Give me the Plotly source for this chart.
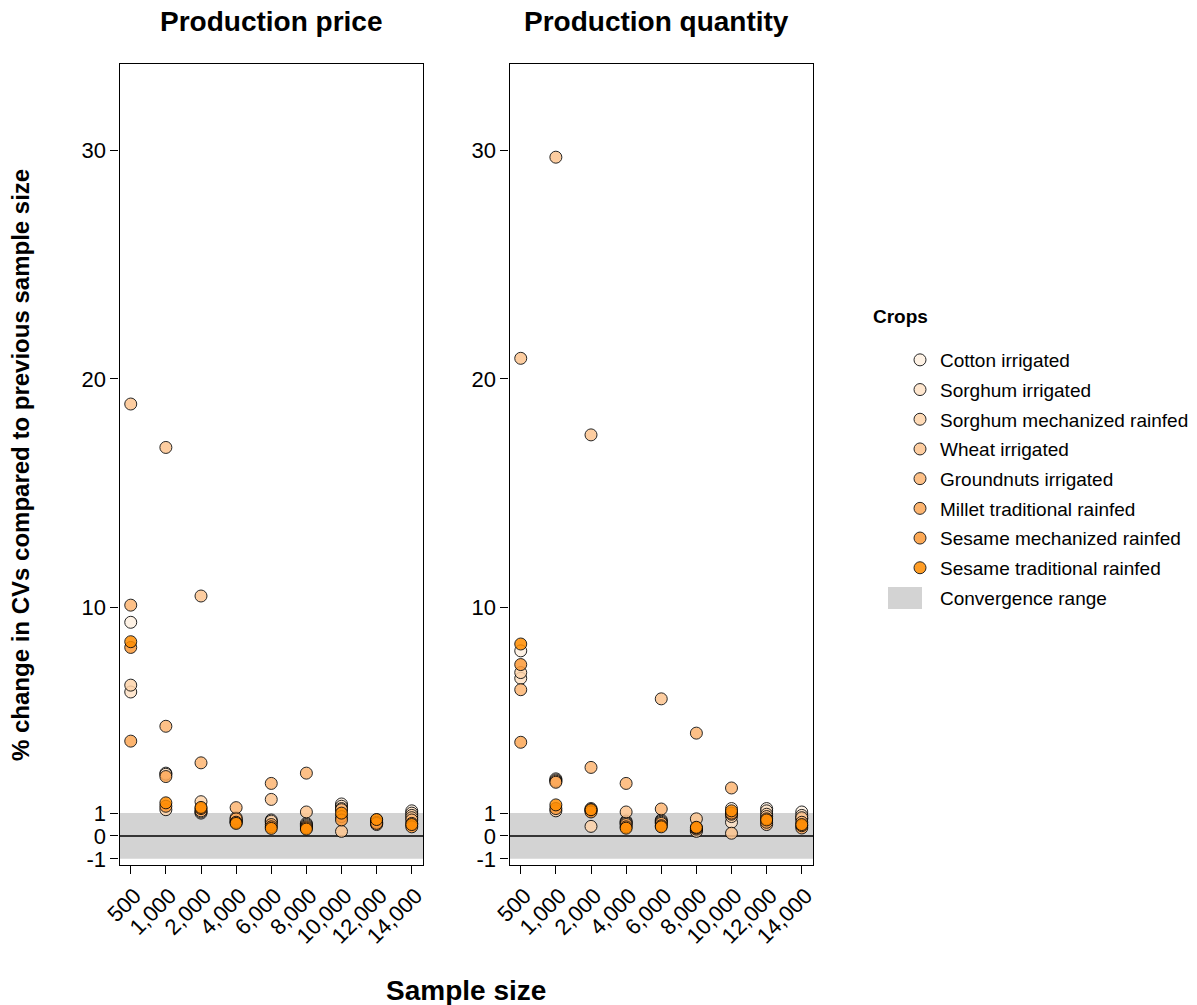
import plotly.graph_objects as go

# Sample sizes (x categories)
SAMPLE_SIZES = ["500", "1,000", "2,000", "4,000", "6,000", "8,000", "10,000", "12,000", "14,000"]

CROPS = [
    "Cotton irrigated",
    "Sorghum irrigated",
    "Sorghum mechanized rainfed",
    "Wheat irrigated",
    "Groundnuts irrigated",
    "Millet traditional rainfed",
    "Sesame mechanized rainfed",
    "Sesame traditional rainfed",
]
CROP_COLORS = ["#FEF0E1", "#FEE2C6", "#FED4AA", "#FDC590", "#FDB673", "#FCA756", "#FC9937", "#FF8C00"]

# % change in CVs, production price
PRICE_COTTON = [9.35, 2.75, 1.0, 0.6, 0.7, 0.55, 1.4, 0.6, 1.1]
PRICE_SORGHUM_IRR = [6.3, 2.7, 1.05, 0.65, 0.6, 0.5, 1.3, 0.55, 1.0]
PRICE_SORGHUM_MECH = [6.6, 1.15, 1.5, 0.7, 0.65, 0.45, 1.2, 0.65, 0.9]
PRICE_WHEAT = [18.9, 17.0, 10.5, 0.8, 1.6, 1.05, 0.2, 0.7, 0.8]
PRICE_GROUNDNUTS = [10.1, 4.8, 3.2, 1.24, 2.3, 2.75, 1.15, 0.5, 0.7]
PRICE_MILLET = [4.15, 2.6, 1.1, 0.75, 0.5, 0.4, 0.85, 0.6, 0.55]
PRICE_SESAME_MECH = [8.25, 1.3, 1.2, 0.6, 0.4, 0.35, 0.7, 0.55, 0.4]
PRICE_SESAME_TRAD = [8.5, 1.45, 1.25, 0.55, 0.33, 0.3, 1.0, 0.72, 0.5]

# % change in CVs, production quantity
QTY_COTTON = [8.1, 2.5, 1.2, 0.65, 0.7, 0.25, 1.2, 1.2, 1.05]
QTY_SORGHUM_IRR = [6.9, 2.45, 1.15, 0.6, 0.65, 0.3, 0.6, 1.1, 0.9]
QTY_SORGHUM_MECH = [7.15, 1.1, 0.42, 0.55, 0.6, 0.2, 0.85, 0.95, 0.75]
QTY_WHEAT = [20.9, 29.7, 17.55, 1.05, 6.0, 0.75, 0.12, 0.85, 0.8]
QTY_GROUNDNUTS = [6.4, 2.4, 3.0, 2.3, 1.18, 4.5, 2.1, 0.5, 0.6]
QTY_MILLET = [4.1, 2.35, 1.1, 0.5, 0.55, 0.3, 0.95, 0.6, 0.35]
QTY_SESAME_MECH = [7.5, 1.2, 1.05, 0.4, 0.45, 0.35, 1.0, 0.75, 0.45]
QTY_SESAME_TRAD = [8.4, 1.36, 1.15, 0.34, 0.4, 0.38, 1.1, 0.7, 0.5]

PRICE = [PRICE_COTTON, PRICE_SORGHUM_IRR, PRICE_SORGHUM_MECH, PRICE_WHEAT,
         PRICE_GROUNDNUTS, PRICE_MILLET, PRICE_SESAME_MECH, PRICE_SESAME_TRAD]
QTY = [QTY_COTTON, QTY_SORGHUM_IRR, QTY_SORGHUM_MECH, QTY_WHEAT,
       QTY_GROUNDNUTS, QTY_MILLET, QTY_SESAME_MECH, QTY_SESAME_TRAD]

Y_TICKS = [-1, 0, 1, 10, 20, 30]
CONVERGENCE = (-1, 1)
BAND_COLOR = "#D3D3D3"

FONT = "Liberation Sans, Arial, sans-serif"
W, H = 1197, 1005

fig = go.Figure()

for i, (crop, color) in enumerate(zip(CROPS, CROP_COLORS)):
    for j, (vals, xa, ya) in enumerate([(PRICE, "x", "y"), (QTY, "x2", "y2")]):
        fig.add_trace(go.Scatter(
            x=SAMPLE_SIZES, y=vals[i], xaxis=xa, yaxis=ya,
            mode="markers", name=crop, legendgroup=crop, legendrank=i + 1,
            showlegend=(j == 0),
            marker=dict(size=12, color=color, opacity=0.85,
                        line=dict(color="black", width=1)),
            hoverinfo="x+y+name",
        ))

# Legend entry for the convergence band (its key swatch is drawn as a shape)
fig.add_trace(go.Scatter(
    x=[None], y=[None], mode="markers", name="Convergence range",
    legendgroup="conv", legendrank=20, showlegend=True,
    marker=dict(size=1, color="rgba(0,0,0,0)", line=dict(width=0)),
    hoverinfo="skip",
))

# Convergence band and zero reference line in each panel
for xr, yr in [("x", "y"), ("x2", "y2")]:
    fig.add_shape(type="rect", xref=f"{xr} domain", yref=yr, x0=0, x1=1,
                  y0=CONVERGENCE[0], y1=CONVERGENCE[1], fillcolor=BAND_COLOR,
                  line=dict(width=0), layer="below")
    fig.add_shape(type="line", xref=f"{xr} domain", yref=yr, x0=0, x1=1,
                  y0=0, y1=0, line=dict(color="black", width=1.3), layer="below")

px = lambda v: v / W
py = lambda v: 1 - v / H

# Legend key swatch for the convergence band
fig.add_shape(type="rect", xref="paper", yref="paper",
              x0=px(888), x1=px(922), y0=py(609), y1=py(587),
              fillcolor=BAND_COLOR, line=dict(width=0))

axis_common = dict(showline=True, mirror=True, linecolor="black", linewidth=1.3,
                   ticks="outside", ticklen=8, tickcolor="black", tickwidth=1.2,
                   showgrid=False, zeroline=False, automargin=False,
                   tickfont=dict(family=FONT, size=22, color="black"))

xcommon = dict(axis_common, type="category", range=[-0.32, 8.32], tickangle=-45,
               categoryorder="array", categoryarray=SAMPLE_SIZES, ticklabelshift=4)
ycommon = dict(axis_common, range=[-1.27, 33.8], tickvals=Y_TICKS,
               ticktext=[str(t) for t in Y_TICKS])

fig.update_layout(
    width=W, height=H,
    margin=dict(l=0, r=0, t=0, b=0, autoexpand=False),
    paper_bgcolor="white", plot_bgcolor="white",
    font=dict(family=FONT, color="black"),
    xaxis=dict(xcommon, domain=[px(119.5), px(423)], anchor="y"),
    yaxis=dict(ycommon, domain=[py(865), py(63.5)], anchor="x"),
    xaxis2=dict(xcommon, domain=[px(509.5), px(813)], anchor="y2"),
    yaxis2=dict(ycommon, domain=[py(865), py(63.5)], anchor="x2"),
    legend=dict(x=px(900), y=py(341), xanchor="left", yanchor="top",
                font=dict(family=FONT, size=19, color="black"),
                traceorder="grouped", tracegroupgap=2,
                bgcolor="rgba(0,0,0,0)", borderwidth=0, itemsizing="trace"),
    showlegend=True,
    annotations=[
        dict(text="<b>Production price</b>", x=px(271), y=py(22), xref="paper", yref="paper",
             xanchor="center", yanchor="middle", showarrow=False,
             font=dict(family=FONT, size=28)),
        dict(text="<b>Production quantity</b>", x=px(656), y=py(22), xref="paper", yref="paper",
             xanchor="center", yanchor="middle", showarrow=False,
             font=dict(family=FONT, size=28)),
        dict(text="<b>Sample size</b>", x=px(466), y=py(990), xref="paper", yref="paper",
             xanchor="center", yanchor="middle", showarrow=False,
             font=dict(family=FONT, size=28)),
        dict(text="<b>% change in CVs compared to previous sample size</b>", x=px(20), y=py(465),
             xref="paper", yref="paper", xanchor="center", yanchor="middle",
             showarrow=False, textangle=-90, font=dict(family=FONT, size=24)),
        dict(text="<b>Crops</b>", x=px(871), y=py(317), xref="paper", yref="paper",
             xanchor="left", yanchor="middle", showarrow=False,
             font=dict(family=FONT, size=19)),
    ],
)

fig.write_html("out.html")
